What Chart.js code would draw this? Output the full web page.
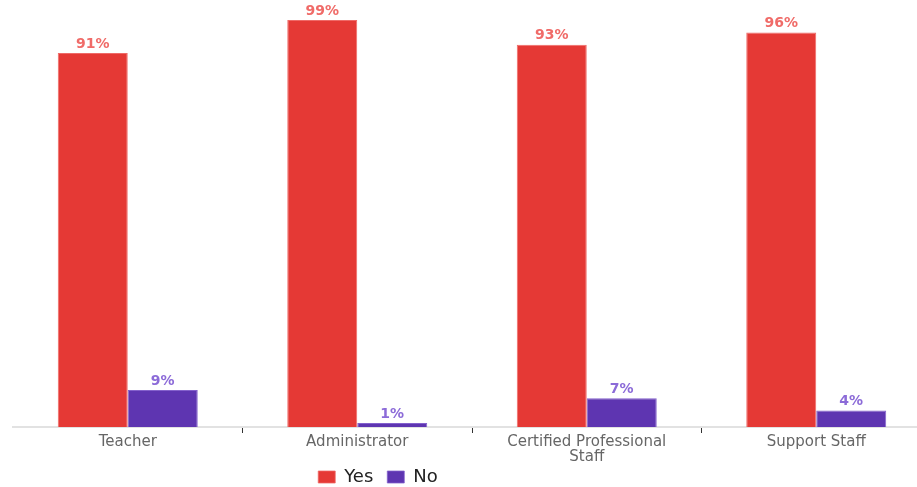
<!DOCTYPE html>
<html>
<head>
<meta charset="utf-8">
<script src="https://cdn.jsdelivr.net/npm/chart.js@4"></script>
<style>
  html, body { margin: 0; padding: 0; background: #fff; overflow: hidden; }
  #wrap { width: 931px; height: 487px; position: relative; }
</style>
</head>
<body>
<div id="wrap"><canvas id="chart"></canvas></div>
<script>
const categories = ["Teacher", "Administrator", ["Certified Professional", "Staff"], "Support Staff"];
const yesValues = [91, 99, 93, 96];
const noValues = [9, 1, 7, 4];
const seriesNames = ["Yes", "No"];

// draws the "91%" style labels on top of each bar
const valueLabels = {
  id: "valueLabels",
  afterDatasetsDraw(chart) {
    const ctx = chart.ctx;
    ctx.save();
    ctx.font = "bold 14px 'DejaVu Sans'";
    ctx.textAlign = "center";
    ctx.textBaseline = "bottom";
    chart.data.datasets.forEach((ds, i) => {
      const meta = chart.getDatasetMeta(i);
      ctx.fillStyle = ds.labelColor;
      meta.data.forEach((bar, j) => {
        ctx.fillText(ds.data[j] + "%", bar.x, bar.y - 2);
      });
    });
    ctx.restore();
  }
};

// legend in the original sits left of centre and close to the axis labels
const legendShift = {
  id: "legendShift",
  afterLayout(chart) {
    const lg = chart.legend;
    lg.left -= 94;
    lg.right -= 94;
    lg.top -= 13;
    lg.bottom -= 13;
  }
};

new Chart(document.getElementById("chart"), {
  type: "bar",
  data: {
    labels: categories,
    datasets: [{
      label: seriesNames[0],
      data: yesValues,
      backgroundColor: "#e53935",
      borderColor: "#ef6a67",
      borderWidth: { top: 1, left: 1, right: 1, bottom: 0 },
      labelColor: "#f06b68"
    }, {
      label: seriesNames[1],
      data: noValues,
      backgroundColor: "#5e35b1",
      borderColor: "#8461cc",
      borderWidth: { top: 1, left: 1, right: 1, bottom: 0 },
      labelColor: "#8c6bd8"
    }]
  },
  options: {
    responsive: true,
    maintainAspectRatio: false,
    animation: false,
    categoryPercentage: 0.61,
    barPercentage: 1,
    layout: { padding: { top: 16, left: 13, right: 0, bottom: -22 } },
    plugins: {
      tooltip: { enabled: false },
      legend: {
        position: "bottom",
        labels: {
          boxWidth: 17,
          boxHeight: 12,
          padding: 14,
          color: "#222",
          font: { family: "'DejaVu Sans'", size: 18 }
        }
      }
    },
    scales: {
      x: {
        offset: true,
        grid: {
          offset: true,
          drawOnChartArea: false,
          drawTicks: true,
          tickLength: 6,
          color: ctx => (ctx.index === 0 || ctx.index === categories.length) ? "rgba(0,0,0,0)" : "#333"
        },
        border: { color: "#e2e2e2", width: 2 },
        ticks: {
          color: "#666",
          padding: 2,
          font: { family: "'DejaVu Sans'", size: 15, lineHeight: 1.0 }
        }
      },
      y: {
        display: false,
        min: 0,
        max: 100
      }
    }
  },
  plugins: [valueLabels, legendShift]
});
</script>
</body>
</html>
